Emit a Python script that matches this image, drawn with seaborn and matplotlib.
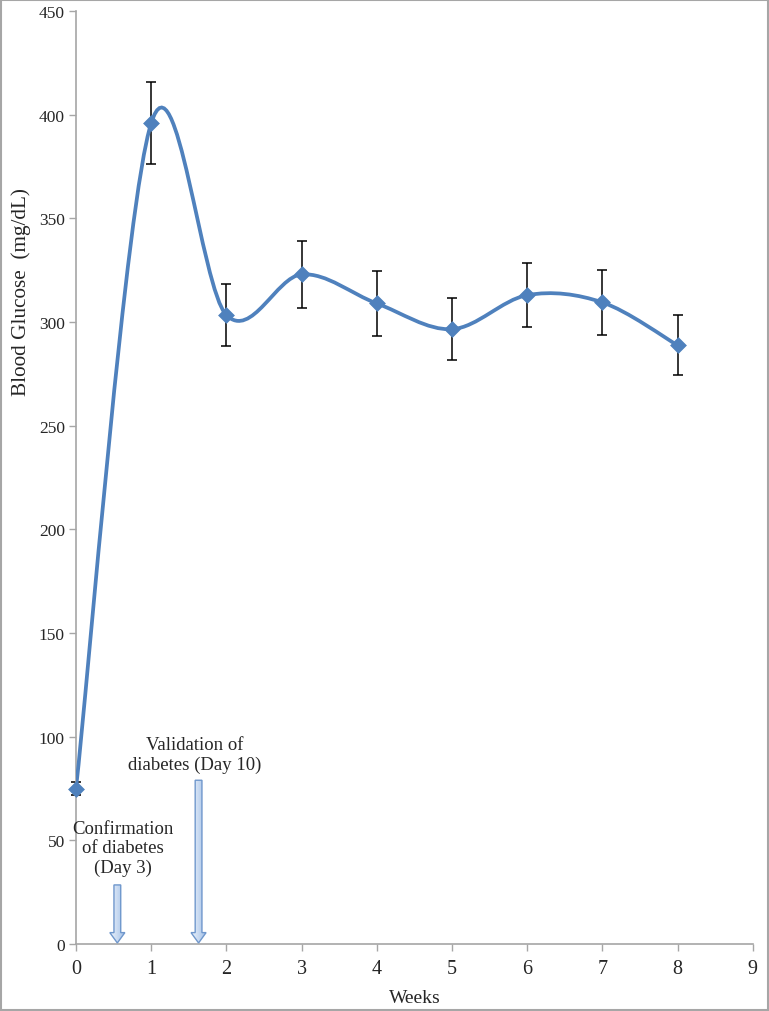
import numpy as np
import matplotlib
matplotlib.use("Agg")
import matplotlib.pyplot as plt
import matplotlib.patches as mpatches
from matplotlib.path import Path
import pandas as pd
import seaborn as sns

weeks = [0, 1, 2, 3, 4, 5, 6, 7, 8]
glucose = [75, 396, 303.4, 323, 309, 296.6, 313, 309.5, 288.8]
err = [3, 19.8, 15, 16, 15.6, 14.9, 15.5, 15.5, 14.4]

# annotation arrows: x position (weeks), top of arrow (mg/dL)
arrow_x = [0.55, 1.63]
arrow_top = [28.5, 79]
notes = ["Confirmation\nof diabetes\n(Day 3)", "Validation of\ndiabetes (Day 10)"]
note_pos = [(0.62, 46.3), (1.58, 91.4)]

blue = "#4f81bd"
grey = "#a6a6a6"

sns.set_style("ticks")
plt.rcParams['font.family'] = ['Liberation Serif', 'DejaVu Serif']

df = pd.DataFrame({"week": weeks, "glucose": glucose, "err": err})

fig = plt.figure(figsize=(7.69, 10.12), dpi=100)
ax = fig.add_axes([0.0988, 0.0662, 0.8802, 0.9218])

# error bars
ax.errorbar(df["week"], df["glucose"], yerr=df["err"], fmt="none", ecolor="black",
            elinewidth=1.1, capsize=3.5, capthick=1.1, zorder=2, clip_on=False)

# excel-like smoothed line (bezier through the points)
pts = np.column_stack([df["week"], df["glucose"]]).astype(float)
verts = [pts[0]]
codes = [Path.MOVETO]
n = len(pts)
for i in range(n - 1):
    p0 = pts[i - 1] if i > 0 else pts[i]
    p1 = pts[i]
    p2 = pts[i + 1]
    p3 = pts[i + 2] if i + 2 < n else pts[i + 1]
    c1 = p1 + (p2 - p0) / 6.0
    c2 = p2 - (p3 - p1) / 6.0
    verts += [c1, c2, p2]
    codes += [Path.CURVE4] * 3
curve = mpatches.PathPatch(Path(verts, codes), facecolor="none", edgecolor=blue,
                           linewidth=2.7, capstyle="round", zorder=3)
ax.add_patch(curve)

sns.scatterplot(data=df, x="week", y="glucose", marker="D", s=65, color=blue,
                edgecolor=blue, linewidth=0.5, ax=ax, zorder=4, legend=False,
                clip_on=False)

# block arrows with a light gradient fill
grad = np.linspace(0, 1, 64).reshape(1, -1)
cmap = matplotlib.colors.LinearSegmentedColormap.from_list("g", ["#eef4fb", "#9dbce6"])
for xa, top in zip(arrow_x, arrow_top):
    arr = mpatches.FancyArrow(xa, top, 0, -top + 0.5, width=0.09, head_width=0.2,
                              head_length=5, length_includes_head=True,
                              facecolor="none", edgecolor="#6f97cc", linewidth=1.0, zorder=5)
    ax.add_patch(arr)
    im = ax.imshow(grad, cmap=cmap, extent=[xa - 0.1, xa + 0.1, 0, top],
                   aspect="auto", zorder=4.5)
    im.set_clip_path(arr)

for txt, (tx, ty) in zip(notes, note_pos):
    ax.text(tx, ty, txt, ha="center", va="center", fontsize=13.5, linespacing=1.2)

ax.set_xlim(0, 9)
ax.set_ylim(0, 450)
ax.set_xticks(range(0, 10))
ax.set_yticks(range(0, 451, 50))
ax.tick_params(axis="x", labelsize=14.5, length=5, color=grey, width=1, pad=6)
ax.tick_params(axis="y", labelsize=12.5, length=5, color=grey, width=1, pad=3)
for s in ["top", "right"]:
    ax.spines[s].set_visible(False)
for s in ["left", "bottom"]:
    ax.spines[s].set_color(grey)
    ax.spines[s].set_linewidth(1.2)

ax.set_xlabel("Weeks", fontsize=14)
ax.set_ylabel("Blood Glucose  (mg/dL)", fontsize=15.3)
ax.xaxis.set_label_coords(0.5, -0.048)
ax.yaxis.set_label_coords(-0.067, 0.70)

fig.patches.append(mpatches.Rectangle((0.001, 0.001), 0.998, 0.998, transform=fig.transFigure,
                                      facecolor="none", edgecolor=grey, linewidth=1.5))

fig.savefig("out.png", dpi=100)
